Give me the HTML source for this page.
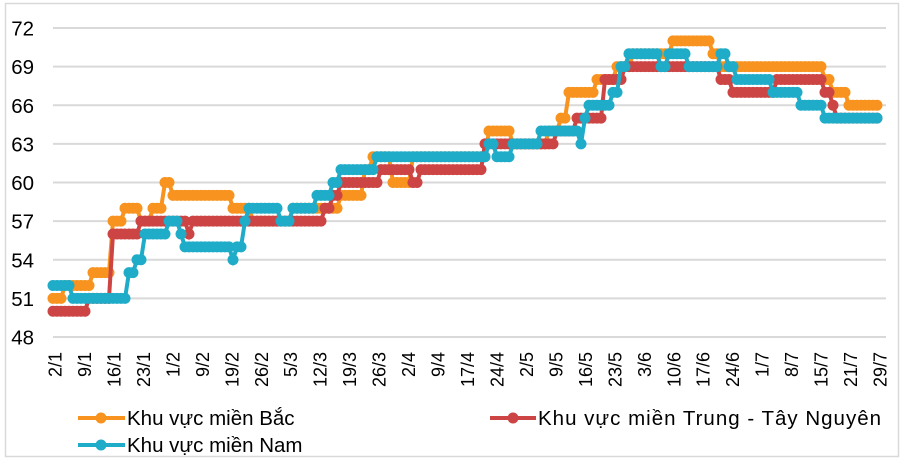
<!DOCTYPE html>
<html><head><meta charset="utf-8"><style>
body{margin:0;background:#fff;}
svg{display:block;font-family:"Liberation Sans",sans-serif;}
</style></head><body>
<svg id="s" width="904" height="464" xmlns="http://www.w3.org/2000/svg">
<rect x="5.5" y="3.5" width="893" height="453" fill="none" stroke="#d9d9d9" stroke-width="1.5"/>
<g id="grid" stroke="#d9d9d9" stroke-width="2"></g>
<g id="ylab" font-size="20.5" fill="#000" text-anchor="end"></g>
<g id="xlab" font-size="18" fill="#000"></g>
<g id="series"></g>
<g font-size="20.5" fill="#000">
<line x1="78" y1="418" x2="125" y2="418" stroke="#f7931e" stroke-width="4"/><circle cx="101" cy="418" r="5.5" fill="#f7931e"/>
<text x="127" y="425">Khu vực miền Bắc</text>
<line x1="490" y1="418" x2="536" y2="418" stroke="#cc4444" stroke-width="4"/><circle cx="513" cy="418" r="5.5" fill="#cc4444"/>
<text x="538" y="425" textLength="343" lengthAdjust="spacing">Khu vực miền Trung - Tây Nguyên</text>
<line x1="78" y1="445" x2="125" y2="445" stroke="#1eacc8" stroke-width="4"/><circle cx="101" cy="445" r="5.5" fill="#1eacc8"/>
<text x="127" y="452">Khu vực miền Nam</text>
</g>
</svg>
<script>
var NS="http://www.w3.org/2000/svg";
function Y(v){return 28+(72-v)*12.875;}
function el(t,a,p,txt){var e=document.createElementNS(NS,t);for(var k in a)e.setAttribute(k,a[k]);if(txt)e.textContent=txt;document.getElementById(p).appendChild(e);return e;}
for(var v=48;v<=72;v+=3){el('line',{x1:53,x2:886,y1:Y(v),y2:Y(v)},'grid');el('text',{x:34,y:Y(v)+7.5},'ylab',String(v));}
var labs=["2/1","9/1","16/1","23/1","1/2","9/2","19/2","26/2","5/3","12/3","19/3","26/3","2/4","9/4","17/4","24/4","2/5","9/5","16/5","23/5","3/6","10/6","17/6","24/6","1/7","8/7","15/7","21/7","29/7"];
var step=(880-55)/(labs.length-1);
labs.forEach(function(l,i){var x=55+i*step;el('text',{x:0,y:0,'text-anchor':'end',transform:'translate('+(x+6.5)+',352) rotate(-90)'},'xlab',l);});
var O=[[53,51],[63,52],[93,53],[111,57],[123,58],[140,57],[153,58],[165,60],[170,59],[230,58],[250,57],[290,58],[320,58],[340,59],[362,61],[370,62],[393,60],[411,62],[486,64],[511,63],[548,64],[558,65],[568,67],[597,68],[614,69],[630,70],[673,71],[713,70],[720,69],[740,69],[823,68],[830,67],[847,66]];
var R=[[53,50],[86,51],[111,56],[140,57],[186,56],[193,57],[322,58],[332,59],[340,60],[378,61],[413,60],[418,61],[482,63],[505,63],[545,63],[556,64],[577,65],[597,65],[604,68],[620,68],[623,69],[718,68],[730,67],[777,68],[825,67],[831,66],[836,65]];
var B=[[53,52],[70,51],[126,53],[136,54],[142,56],[166,57],[178,56],[183,55],[231,54],[237,55],[243,57],[247,58],[279,57],[290,58],[316,59],[330,60],[340,61],[377,62],[488,63],[494,62],[512,63],[541,64],[574,64],[578,63],[582,65],[587,66],[612,67],[618,69],[628,70],[658,69],[668,70],[688,69],[720,70],[726,69],[736,68],[772,67],[800,66],[822,65],[878,66]];
function val(s,x){var v=s[0][1];for(var i=0;i<s.length;i++){if(x>=s[i][0])v=s[i][1];}return v;}
function draw(s,c){var pts=[];for(var x=53;x<=880;x+=4){pts.push([x,Y(val(s,x))]);}
el('polyline',{points:pts.map(function(p){return p.join(',')}).join(' '),fill:'none',stroke:c,'stroke-width':4},'series');
pts.forEach(function(p){el('circle',{cx:p[0],cy:p[1],r:5.5,fill:c},'series');});}
draw(O,'#f7931e');draw(R,'#cc4444');draw(B,'#1eacc8');
</script>
</body></html>
